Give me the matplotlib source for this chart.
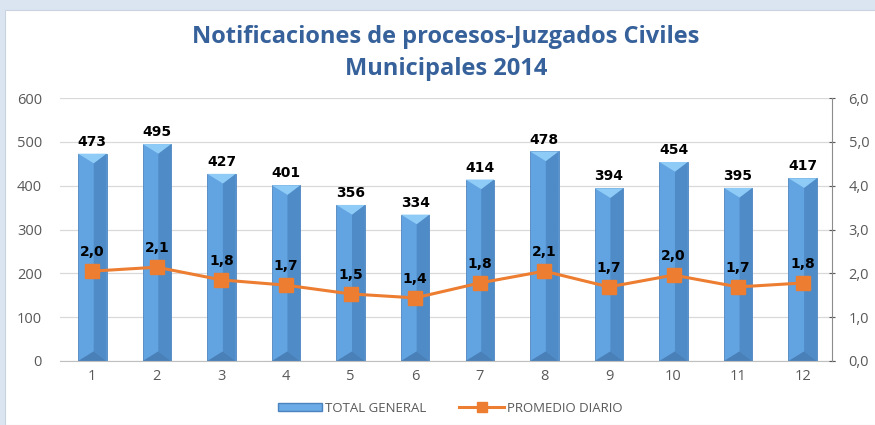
import matplotlib.pyplot as plt
import numpy as np
from matplotlib.patches import Rectangle, Polygon
from matplotlib.lines import Line2D

# Datos
meses = [1, 2, 3, 4, 5, 6, 7, 8, 9, 10, 11, 12]
total_general = [473, 495, 427, 401, 356, 334, 414, 478, 394, 454, 395, 417]
promedio_diario = [2.05, 2.14, 1.85, 1.73, 1.53, 1.44, 1.78, 2.05, 1.69, 1.96, 1.69, 1.78]
promedio_labels = ['2,0', '2,1', '1,8', '1,7', '1,5', '1,4', '1,8', '2,1', '1,7', '2,0', '1,7', '1,8']
left_ticks = [0, 100, 200, 300, 400, 500, 600]
right_ticks = [0, 1, 2, 3, 4, 5, 6]

plt.rcParams['font.family'] = ['Open Sans', 'DejaVu Sans']

fig = plt.figure(figsize=(8.75, 4.25), dpi=100)
fig.patch.set_facecolor('#dbe5f1')
# white chart panel
fig.patches.append(Rectangle((5 / 875, 0), 1, 1 - 10 / 425, transform=fig.transFigure,
                             facecolor='white', edgecolor='#c9d3df', lw=0.8, zorder=-10))

ax = fig.add_axes([60 / 875, 1 - 361 / 425, 775 / 875, 263 / 425])
ax.set_facecolor('none')
x = np.array(meses)
w = 0.44
cap = 22  # bevel depth in data units

bars = ax.bar(x, total_general, width=w, color='#62a3e2', edgecolor='#4f86bf',
              lw=0.6, zorder=2)
for b, v in zip(bars, total_general):
    x0 = b.get_x()
    bw = b.get_width()
    x1 = x0 + bw
    xc = x0 + bw * 0.55
    # darker right face
    ax.add_patch(Polygon([(xc, cap), (xc, v - cap), (x1, v), (x1, 0)], closed=True,
                         facecolor='#4f8bc6', edgecolor='none', zorder=2.1))
    # bottom bevel
    ax.add_patch(Polygon([(x0, 0), (x1, 0), (xc, cap)], closed=True,
                         facecolor='#4a80b8', edgecolor='none', zorder=2.2))
    # top bevel
    ax.add_patch(Polygon([(x0, v), (x1, v), (xc, v - cap)], closed=True,
                         facecolor='#8ecbf6', edgecolor='none', zorder=2.2))
    ax.text(x0 + bw / 2, v + 11, str(v), ha='center', va='bottom',
            fontsize=10, fontweight='bold', color='black', family='DejaVu Sans', zorder=5)

ax.set_xlim(0.5, 12.5)
ax.set_ylim(0, 600)
ax.set_yticks(left_ticks)
ax.set_xticks(x)
ax.tick_params(axis='both', colors='#595959', labelsize=10.5, length=0)
ax.tick_params(axis='x', pad=6)
ax.tick_params(axis='y', pad=13)
ax.grid(axis='y', color='#d9d9d9', lw=0.9, zorder=0)
ax.set_axisbelow(True)
for s in ['top', 'left', 'right']:
    ax.spines[s].set_visible(False)
ax.spines['bottom'].set_color('#bfbfbf')

ax2 = ax.twinx()
ax2.plot(x, promedio_diario, color='#ed7d31', lw=2.2, marker='s', markersize=10,
         zorder=4)
for xi, yi, lab in zip(x, promedio_diario, promedio_labels):
    ax2.text(xi, yi + 0.27, lab, ha='center', va='bottom', fontsize=10,
             fontweight='bold', color='black', family='DejaVu Sans')
ax2.set_ylim(0, 6)
ax2.set_yticks(right_ticks)
ax2.set_yticklabels([f'{t},0' for t in right_ticks])
ax2.tick_params(axis='y', colors='#595959', labelsize=10.5, length=4, direction='inout', pad=10)
for s in ['top', 'left', 'bottom']:
    ax2.spines[s].set_visible(False)
ax2.spines['right'].set_color('#8c8c8c')
ax2.spines['right'].set_position(('axes', 0.996))

fig.text(446 / 875, 1 - 53 / 425, 'Notificaciones de procesos-Juzgados Civiles\nMunicipales 2014',
         ha='center', va='center', fontsize=17, fontweight='bold', color='#36619a',
         linespacing=1.4)

handles = [Rectangle((0, 0), 1, 1, facecolor='#6aaae6', edgecolor='#4a83bd'),
           Line2D([0], [0], color='#ed7d31', lw=2.2, marker='s', markersize=7)]
fig.legend(handles, ['TOTAL GENERAL', 'PROMEDIO DIARIO'], loc='center',
           bbox_to_anchor=(450 / 875, 1 - 408 / 425), ncol=2, frameon=False,
           fontsize=9.5, labelcolor='#595959', handlelength=3.4, handleheight=0.6,
           columnspacing=2.5, handletextpad=0.2)

fig.savefig('out.png', dpi=100)
